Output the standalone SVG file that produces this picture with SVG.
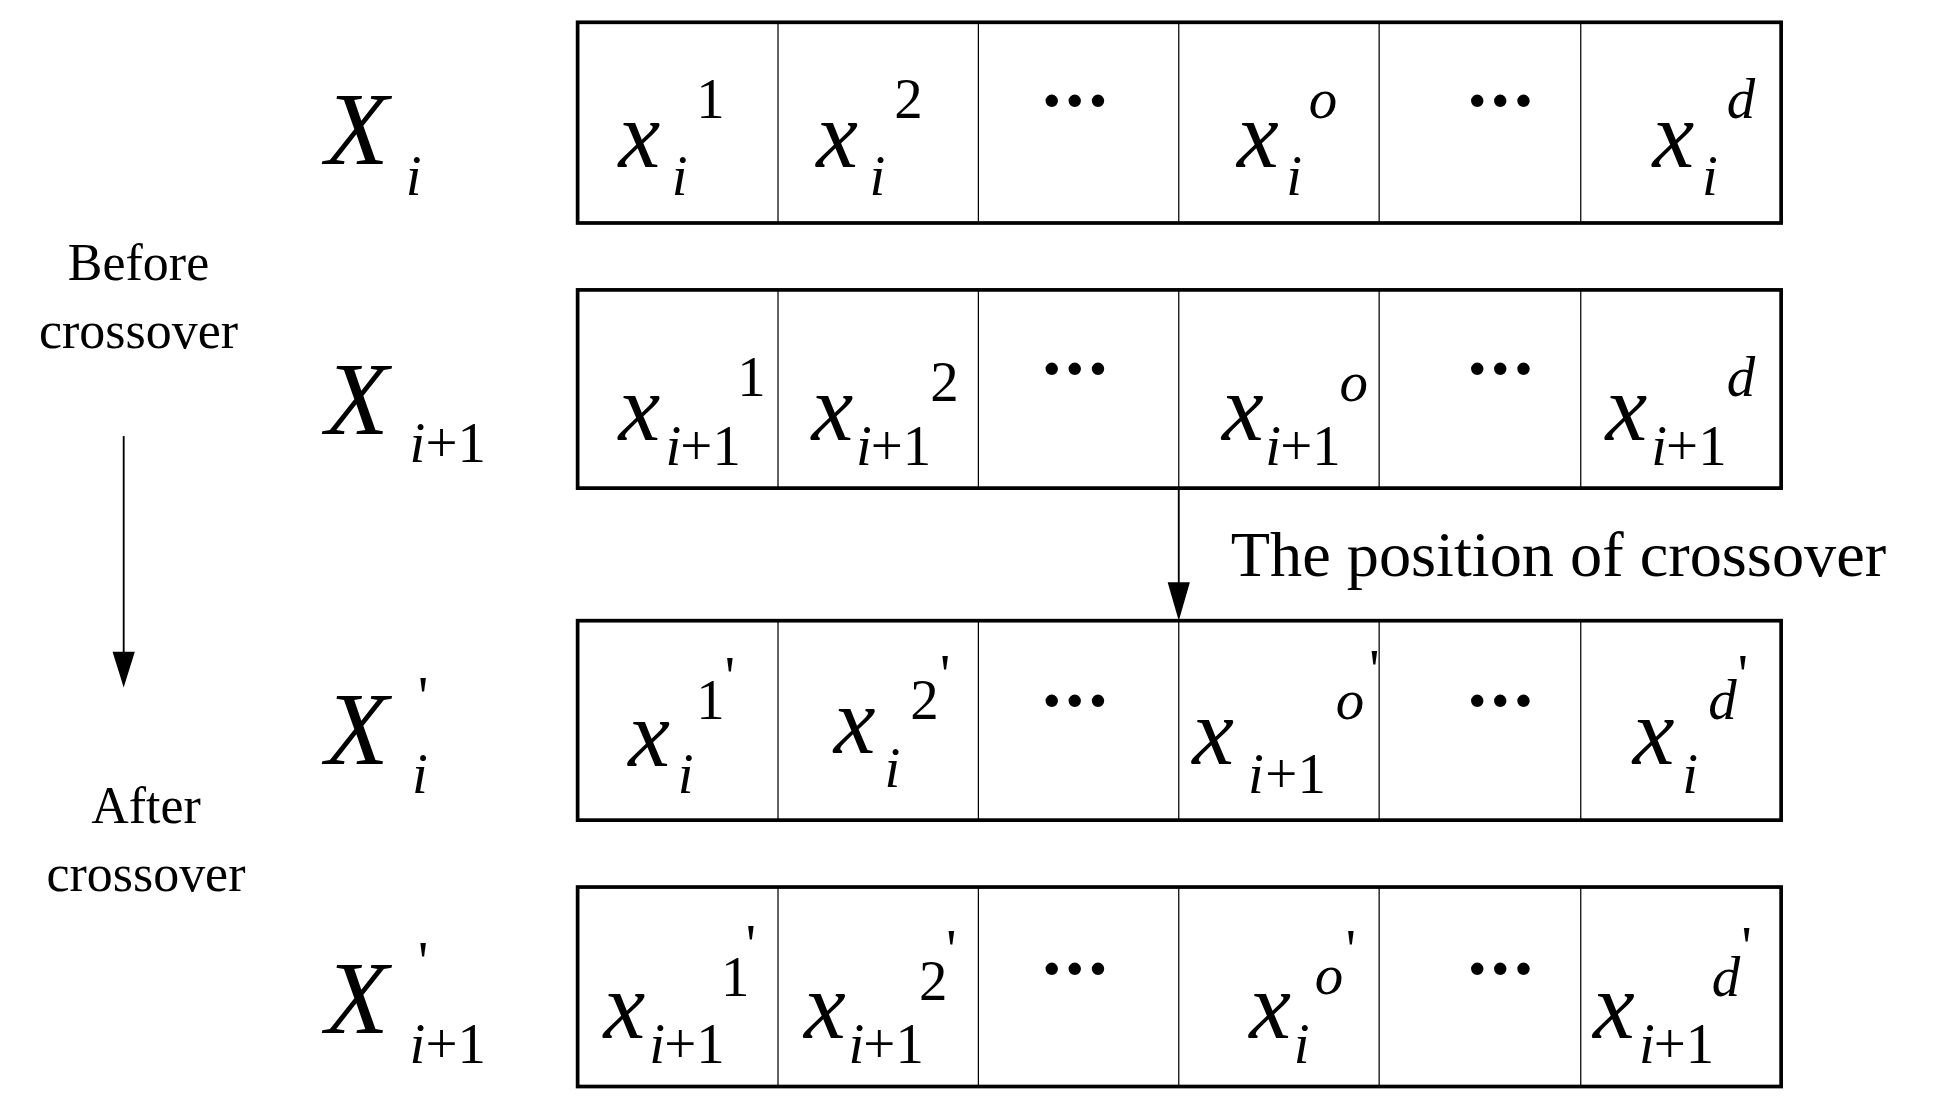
<svg xmlns="http://www.w3.org/2000/svg" width="1939" height="1115" viewBox="0 0 1939 1115">
<style>
text{font-family:"Liberation Serif","Times New Roman",serif;fill:#000}
.v{font-style:italic;font-size:76px}
.V{font-style:italic;font-size:84px}
.s{font-style:italic;font-size:46px}
.n{font-size:46px}
.l{font-size:42px}
.d{font-size:62px;letter-spacing:-2px;font-weight:bold}
.box{fill:#fff;stroke:#000;stroke-width:3}
.div{stroke:#000;stroke-width:1}
</style>
<rect width="1939" height="1115" fill="#fff"/>
<g transform="scale(1.2369,1.2389)">
<g id="row1">
<rect class="box" x="467" y="18" width="973" height="162"/>
<path class="div" d="M629 18V180M791 18V180M953 18V180M1115 18V180M1278 18V180"/>
<text class="V" x="263" y="132">X</text><text class="s" x="328" y="157">i</text>
<text class="v" x="500" y="135">x</text><text class="s" x="543" y="157">i</text><text class="n" x="563" y="95">1</text>
<text class="v" x="660" y="135">x</text><text class="s" x="703" y="157">i</text><text class="n" x="723" y="95">2</text>
<text class="d" x="868" y="102" text-anchor="middle">···</text>
<text class="v" x="1000" y="135">x</text><text class="s" x="1040" y="157">i</text><text class="s" x="1058" y="95">o</text>
<text class="d" x="1212" y="102" text-anchor="middle">···</text>
<text class="v" x="1336" y="135">x</text><text class="s" x="1376" y="157">i</text><text class="s" x="1396" y="95">d</text>
</g>
<g id="row2">
<rect class="box" x="467" y="234" width="973" height="160"/>
<path class="div" d="M629 234V394M791 234V394M953 234V394M1115 234V394M1278 234V394"/>
<text class="V" x="263" y="350">X</text><text class="s" x="331" y="373">i</text><text class="n" x="344" y="373">+1</text>
<text class="v" x="500" y="355">x</text><text class="s" x="538" y="375">i</text><text class="n" x="550" y="375">+1</text><text class="n" x="596" y="320">1</text>
<text class="v" x="656" y="355">x</text><text class="s" x="692" y="375">i</text><text class="n" x="704" y="375">+1</text><text class="n" x="752" y="324">2</text>
<text class="d" x="868" y="318" text-anchor="middle">···</text>
<text class="v" x="988" y="355">x</text><text class="s" x="1023" y="375">i</text><text class="n" x="1035" y="375">+1</text><text class="s" x="1083" y="324">o</text>
<text class="d" x="1212" y="318" text-anchor="middle">···</text>
<text class="v" x="1298" y="355">x</text><text class="s" x="1335" y="375">i</text><text class="n" x="1347" y="375">+1</text><text class="s" x="1396" y="320">d</text>
</g>
<g id="row3">
<rect class="box" x="467" y="501" width="973" height="161"/>
<path class="div" d="M629 501V662M791 501V662M953 501V662M1115 501V662M1278 501V662"/>
<text class="V" x="263" y="617">X</text><text class="s" x="333" y="640">i</text><text class="n" x="338" y="578">'</text>
<text class="v" x="508" y="618">x</text><text class="s" x="548" y="640">i</text><text class="n" x="563" y="580">1</text><text class="n" x="586" y="562">'</text>
<text class="v" x="674" y="608">x</text><text class="s" x="715" y="635">i</text><text class="n" x="736" y="580">2</text><text class="n" x="760" y="560">'</text>
<text class="d" x="868" y="586" text-anchor="middle">···</text>
<text class="v" x="964" y="617">x</text><text class="s" x="1009" y="640">i</text><text class="n" x="1023" y="640">+1</text><text class="s" x="1080" y="580">o</text><text class="n" x="1107" y="556">'</text>
<text class="d" x="1212" y="586" text-anchor="middle">···</text>
<text class="v" x="1320" y="617">x</text><text class="s" x="1360" y="640">i</text><text class="s" x="1381" y="580">d</text><text class="n" x="1405" y="560">'</text>
</g>
<g id="row4">
<rect class="box" x="467" y="716" width="973" height="161"/>
<path class="div" d="M629 716V877M791 716V877M953 716V877M1115 716V877M1278 716V877"/>
<text class="V" x="263" y="834">X</text><text class="s" x="331" y="858">i</text><text class="n" x="344" y="858">+1</text><text class="n" x="338" y="792">'</text>
<text class="v" x="488" y="838">x</text><text class="s" x="525" y="858">i</text><text class="n" x="537" y="858">+1</text><text class="n" x="583" y="804">1</text><text class="n" x="603" y="778">'</text>
<text class="v" x="650" y="838">x</text><text class="s" x="686" y="858">i</text><text class="n" x="698" y="858">+1</text><text class="n" x="743" y="807">2</text><text class="n" x="765" y="782">'</text>
<text class="d" x="868" y="802" text-anchor="middle">···</text>
<text class="v" x="1010" y="838">x</text><text class="s" x="1046" y="858">i</text><text class="s" x="1063" y="802">o</text><text class="n" x="1088" y="782">'</text>
<text class="d" x="1212" y="802" text-anchor="middle">···</text>
<text class="v" x="1288" y="838">x</text><text class="s" x="1325" y="858">i</text><text class="n" x="1337" y="858">+1</text><text class="s" x="1384" y="804">d</text><text class="n" x="1408" y="780">'</text>
</g>
<g id="labels">
<text class="l" x="112" y="226" text-anchor="middle">Before</text>
<text class="l" x="112" y="281" text-anchor="middle">crossover</text>
<text class="l" x="118" y="664" text-anchor="middle">After</text>
<text class="l" x="118" y="719" text-anchor="middle">crossover</text>
<text x="995" y="465" style="font-size:52px">The position of crossover</text>
</g>
<g id="connectors">
<path d="M100 352V528" stroke="#000" stroke-width="1.5"/>
<path d="M91 526L109 526L100 555Z" fill="#000"/>
<path d="M953 394V472" stroke="#000" stroke-width="1.5"/>
<path d="M944 470L962 470L953 501Z" fill="#000"/>
</g>
</g>
</svg>
